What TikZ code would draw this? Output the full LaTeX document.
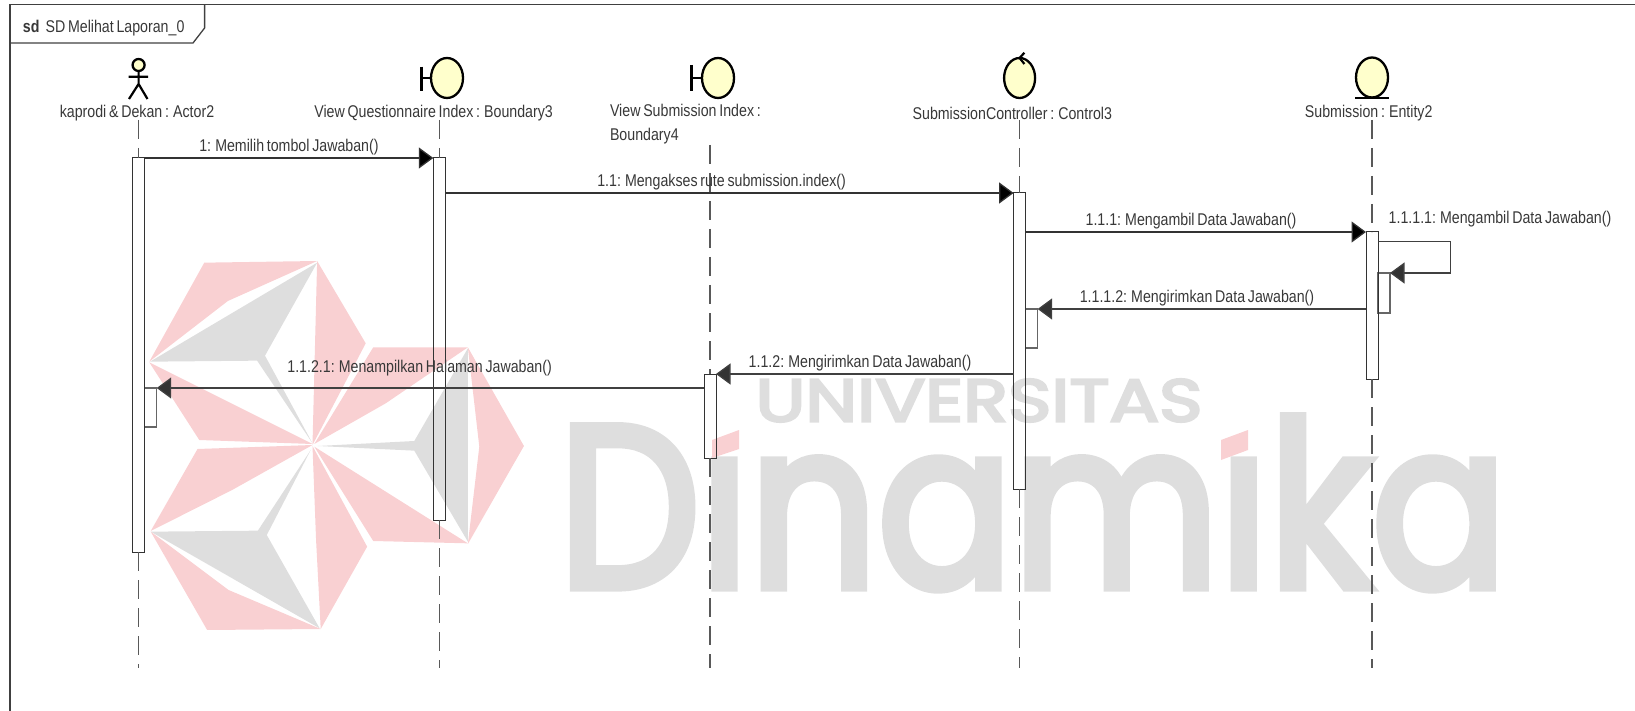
\documentclass[tikz,border=0pt]{standalone}
\usepackage{fontspec}
\setmainfont[FakeStretch=0.835,WordSpace=0.7]{Liberation Sans}
\newfontfamily\markfont[FakeBold=4]{Poppins}
\usetikzlibrary{arrows.meta,shapes.geometric}
\definecolor{markpink}{HTML}{F9D0D2}
\definecolor{markgrey}{HTML}{DEDEDE}
\definecolor{ballfill}{HTML}{FFFFCC}
\tikzset{
    every node/.style={font=\fontsize{17}{19}\selectfont, text=black!78, inner sep=0pt, outer sep=0pt},
    actbox/.style={draw=black!80, rectangle, minimum width=12pt, line width=1pt},
    nestbox/.style={draw=black!60, rectangle, minimum width=12pt, line width=1.2pt},
    lifeline/.style={draw=black!65, line width=1.3pt, dash pattern=on 19pt off 9pt},
    ball/.style={draw=black, fill=ballfill, ellipse, line width=2.3pt, minimum width=32pt, minimum height=40pt},
    icon/.style={draw=black, line width=2.2pt},
    msg/.style={draw=black!80, line width=1.3pt, -{Triangle[length=14.5pt,width=21pt,fill=black]}},
    backmsg/.style={draw=black!75, line width=1.3pt, -{Triangle[length=14.5pt,width=21pt,fill=black!80]}},
    pinkshard/.style={fill=markpink},
    greyshard/.style={fill=markgrey}
}
\begin{document}
\begin{tikzpicture}[x=1pt, y=-1pt]
    \useasboundingbox (0,0) rectangle (1635,711);
    % watermark emblem
    \begin{scope}[shift={(100,240)}, x=0.35714pt, y=-0.33333pt]
    \fill[pinkshard] (292,68) -- (608,63) -- (358,183) -- (138,365) -- cycle;
    \fill[greyshard] (140,365) -- (608,68) -- (462,347) -- (595,610) -- (440,362) -- cycle;
    \fill[pinkshard] (608,63) -- (744,310) -- (595,615) -- (600,400) -- cycle;
    \fill[pinkshard] (138,367) -- (595,612) -- (278,600) -- cycle;
    \fill[pinkshard] (273,627) -- (595,615) -- (370,750) -- (142,873) -- cycle;
    \fill[greyshard] (142,875) -- (442,872) -- (590,630) -- (467,885) -- (615,1165) -- cycle;
    \fill[pinkshard] (142,875) -- (360,1050) -- (618,1167) -- (300,1170) -- cycle;
    \fill[pinkshard] (595,618) -- (748,920) -- (618,1167) -- (605,900) -- cycle;
    \fill[pinkshard] (600,620) -- (1030,910) -- (765,903) -- cycle;
    \fill[greyshard] (1030,325) -- (880,603) -- (610,618) -- (880,632) -- (1030,905) -- cycle;
    \fill[pinkshard] (1030,322) -- (765,322) -- (600,612) -- (800,490) -- cycle;
    \fill[pinkshard] (1030,322) -- (1187,618) -- (1030,912) -- (1062,620) -- cycle;
    \end{scope}
    % watermark words
    \node[text=markgrey, font=\markfont\fontsize{60}{60}\selectfont, xscale=1.23] (markUni) at (979,400.5) {UNIVERSITAS};
    \node[text=markgrey, font=\markfont\fontsize{230}{230}\selectfont, xscale=0.871, anchor=base] (markDin) at (1032.8,587) {D\char"0131 nam\char"0131 ka};
    \fill[pinkshard] (712,440) -- (739,430) -- (739,449) -- (712,458) -- cycle;
    \fill[pinkshard] (1221,440) -- (1248,430) -- (1248,450) -- (1221,460) -- cycle;
    % frame and tab
    \draw[black!75, line width=1.5pt] (10,711) -- (10,4.7) -- (1635,4.7);
    \draw[black!75, line width=1.3pt] (10,43) -- (193,43) -- (204.6,28) -- (204.6,4.7);
    \node[anchor=west] (frameTag) at (23,28) {\textbf{sd}\hspace{6pt}SD Melihat Laporan\_0};
    % heads
    \node[ball, minimum width=12pt, minimum height=12pt] (headA) at (138.6,65) {};
    \draw[icon] (headA.south) -- (138.6,84) -- (129,99) (138.6,84) -- (147.5,99) (128.6,76.7) -- (148,76.7);
    \node[ball] (ballB) at (447,78) {};
    \draw[icon] (421.4,66.7) -- (421.4,90.7) (421.4,78) -- (ballB.west);
    \node[ball] (ballC) at (718,78) {};
    \draw[icon] (691.4,65) -- (691.4,90.7) (691.4,78) -- (ballC.west);
    \node[ball, minimum width=31pt] (ballD) at (1019.6,78) {};
    \draw[icon] (1024.4,52.7) -- (ballD.north) -- (1024.4,64);
    \node[ball] (ballE) at (1372,77.5) {};
    \draw[icon] (1355,97.7) -- (1389,97.7);
    % names
    \node (nameA) at (137,113.5) {kaprodi \& Dekan : Actor2};
    \node (nameB) at (433.6,113.5) {View Questionnaire Index : Boundary3};
    \node[anchor=north west, align=left] (nameC) at (610,104) {View Submission Index :\\[5pt]Boundary4};
    \node (nameD) at (1012.3,113.5) {SubmissionController : Control3};
    \node (nameE) at (1368.7,113.5) {Submission : Entity2};
    % activations
    \node[nestbox, minimum height=39pt] (nestA) at (150.7,407.5) {};
    \node[nestbox, minimum height=39pt] (nestD) at (1031.6,328.5) {};
    \node[nestbox, minimum height=40pt] (nestE) at (1384,293) {};
    \node[actbox, minimum height=394pt] (actA) at (138.6,355) {};
    \node[actbox, minimum height=362pt] (actB) at (439.3,339) {};
    \node[actbox, minimum height=84pt] (actC) at (710,416) {};
    \node[actbox, minimum height=296pt] (actD) at (1019.6,341) {};
    \node[actbox, minimum height=147pt] (actE) at (1372,305.5) {};
    % lifelines
    \foreach \who/\xpos/\ytop in {A/138.6/120, B/439.3/120, C/710/145, D/1019.6/120, E/1372/120} {
        \coordinate (top\who) at (\xpos,\ytop);
        \coordinate (end\who) at (\xpos,668);
        \draw[lifeline] (top\who) -- (act\who.north);
        \draw[lifeline] (act\who.south) -- (end\who);
    }
    % messages
    \draw[msg] (actA.north east) -- node[above=3pt] (lblOne) {1: Memilih tombol Jawaban()} (actB.north west);
    \draw[msg] (actB.east |- actD.north) -- (actD.north west);
    \node (lblTwo) at (721.6,182) {1.1: Mengakses rute submission.index()};
    \draw[msg] (actD.east |- actE.north) -- (actE.north west);
    \node (lblThree) at (1191,221.5) {1.1.1: Mengambil Data Jawaban()};
    \coordinate (selfStart) at (1378,241.7);
    \coordinate (selfTurn) at (1450.7,241.7);
    \draw[backmsg] (selfStart) -- (selfTurn) |- (nestE.north east);
    \node (lblFour) at (1500,219.5) {1.1.1.1: Mengambil Data Jawaban()};
    \draw[backmsg] (actE.west |- nestD.north) -- (nestD.north east);
    \node (lblFive) at (1197,298) {1.1.1.2: Mengirimkan Data Jawaban()};
    \draw[backmsg] (actD.west |- actC.north) -- (actC.north east);
    \node (lblSix) at (860,363.5) {1.1.2: Mengirimkan Data Jawaban()};
    \draw[backmsg] (actC.west |- nestA.north) -- (nestA.north east);
    \node (lblSeven) at (419.6,368) {1.1.2.1: Menampilkan Halaman Jawaban()};
\end{tikzpicture}
\end{document}
